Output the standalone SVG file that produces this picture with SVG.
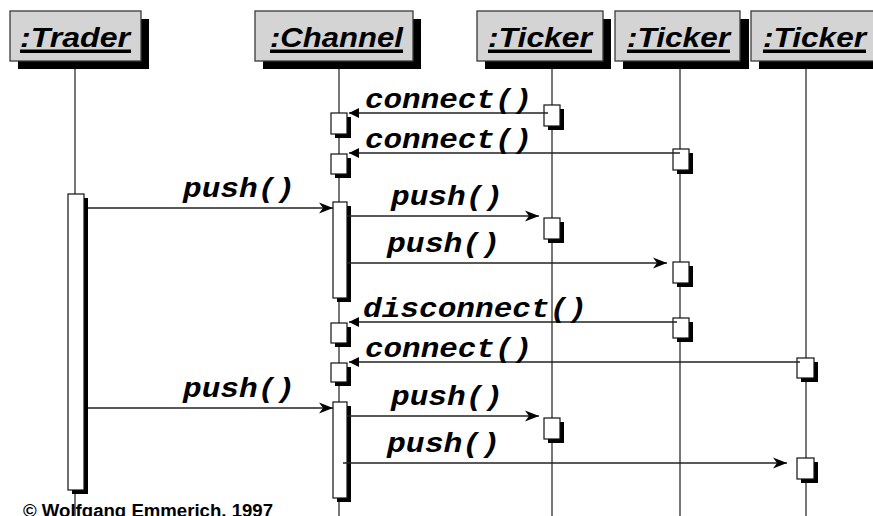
<svg xmlns="http://www.w3.org/2000/svg" width="873" height="516" viewBox="0 0 873 516">
<style>
.hbox{fill:#d4d4d4;stroke:#3a3a3a;stroke-width:1.3}
.shadow{fill:#000}
.htext{font-family:"Liberation Sans",Arial,sans-serif;font-weight:bold;font-style:italic;font-size:27px;fill:#000}
.life{stroke:#555;stroke-width:1.6;fill:none}
.act{fill:#fff;stroke:#111;stroke-width:1.2}
.msg{stroke:#222;stroke-width:1.5;fill:none}
.lbl{font-family:"Liberation Mono","Courier New",monospace;font-weight:bold;font-style:italic;font-size:27px;fill:#000}
.copy{font-family:"Liberation Sans",Arial,sans-serif;font-weight:bold;font-size:18px;fill:#000}
</style>
<defs>
<marker id="tri" markerUnits="userSpaceOnUse" markerWidth="12" markerHeight="12" refX="10" refY="6" orient="auto"><path d="M0,1 L10,6 L0,11 z" fill="#000"/></marker>
<marker id="barb" markerUnits="userSpaceOnUse" markerWidth="16" markerHeight="12" refX="14" refY="6" orient="auto"><path d="M0,0.5 L14,6 L0,11.5 L4,6 z" fill="#000"/></marker>
</defs>
<rect width="873" height="516" fill="#fff"/>

<g id="lifelines">
<line class="life" x1="75" y1="68" x2="75" y2="516"/>
<line class="life" x1="339" y1="68" x2="339" y2="516"/>
<line class="life" x1="552" y1="68" x2="552" y2="516"/>
<line class="life" x1="680" y1="68" x2="680" y2="516"/>
<line class="life" x1="806" y1="68" x2="806" y2="516"/>
</g>

<g id="trader">
<rect class="shadow" x="18" y="19" width="131" height="50"/>
<rect class="hbox" x="10" y="11" width="131" height="50"/>
<text class="htext" x="20" y="47" textLength="110" lengthAdjust="spacingAndGlyphs">:Trader</text>
<rect x="20" y="49.5" width="111" height="3.5" fill="#000"/>
<rect class="shadow" x="72" y="198" width="16" height="296"/>
<rect class="act" x="68" y="194" width="16" height="296"/>
</g>

<g id="channel">
<rect class="shadow" x="263" y="19" width="158" height="50"/>
<rect class="hbox" x="255" y="11" width="158" height="50"/>
<text class="htext" x="270" y="47" textLength="133" lengthAdjust="spacingAndGlyphs">:Channel</text>
<rect x="270" y="49.5" width="133" height="3.5" fill="#000"/>
<rect class="shadow" x="335" y="117" width="16" height="21"/>
<rect class="act" x="331" y="113" width="16" height="21"/>
<rect class="shadow" x="335" y="158" width="16" height="20"/>
<rect class="act" x="331" y="154" width="16" height="20"/>
<rect class="shadow" x="337" y="206" width="14" height="96"/>
<rect class="act" x="333" y="202" width="14" height="96"/>
<rect class="shadow" x="335" y="327" width="16" height="20"/>
<rect class="act" x="331" y="323" width="16" height="20"/>
<rect class="shadow" x="335" y="367" width="16" height="19"/>
<rect class="act" x="331" y="363" width="16" height="19"/>
<rect class="shadow" x="337" y="406" width="14" height="96"/>
<rect class="act" x="333" y="402" width="14" height="96"/>
</g>

<g id="ticker1">
<rect class="shadow" x="485" y="19" width="126" height="50"/>
<rect class="hbox" x="477" y="11" width="126" height="50"/>
<text class="htext" x="488" y="47" textLength="104" lengthAdjust="spacingAndGlyphs">:Ticker</text>
<rect x="488" y="49.5" width="104" height="3.5" fill="#000"/>
<rect class="shadow" x="548" y="109" width="16" height="21"/>
<rect class="act" x="544" y="105" width="16" height="21"/>
<rect class="shadow" x="548" y="222" width="16" height="21"/>
<rect class="act" x="544" y="218" width="16" height="21"/>
<rect class="shadow" x="548" y="422" width="16" height="21"/>
<rect class="act" x="544" y="418" width="16" height="21"/>
</g>

<g id="ticker2">
<rect class="shadow" x="623" y="19" width="126" height="50"/>
<rect class="hbox" x="615" y="11" width="125" height="50"/>
<text class="htext" x="627" y="47" textLength="103" lengthAdjust="spacingAndGlyphs">:Ticker</text>
<rect x="627" y="49.5" width="103" height="3.5" fill="#000"/>
<rect class="shadow" x="677" y="153" width="16" height="21"/>
<rect class="act" x="673" y="149" width="16" height="21"/>
<rect class="shadow" x="677" y="266" width="16" height="21"/>
<rect class="act" x="673" y="262" width="16" height="21"/>
<rect class="shadow" x="677" y="322" width="16" height="20"/>
<rect class="act" x="673" y="318" width="16" height="20"/>
</g>

<g id="ticker3">
<rect class="shadow" x="759" y="19" width="130" height="50"/>
<rect class="hbox" x="751" y="11" width="130" height="50"/>
<text class="htext" x="763" y="47" textLength="103" lengthAdjust="spacingAndGlyphs">:Ticker</text>
<rect x="763" y="49.5" width="103" height="3.5" fill="#000"/>
<rect class="shadow" x="801" y="362" width="17" height="20"/>
<rect class="act" x="797" y="358" width="17" height="20"/>
<rect class="shadow" x="801" y="462" width="17" height="21"/>
<rect class="act" x="797" y="458" width="17" height="21"/>
</g>

<g id="connectors">
<line class="msg" x1="548" y1="113" x2="349" y2="113" marker-end="url(#tri)"/>
<line class="msg" x1="680" y1="153" x2="349" y2="153" marker-end="url(#tri)"/>
<line class="msg" x1="88" y1="208" x2="333" y2="208" marker-end="url(#barb)"/>
<line class="msg" x1="347" y1="216" x2="539" y2="216" marker-end="url(#barb)"/>
<line class="msg" x1="347" y1="263" x2="667" y2="263" marker-end="url(#barb)"/>
<line class="msg" x1="677" y1="322" x2="349" y2="322" marker-end="url(#tri)"/>
<line class="msg" x1="800" y1="362" x2="349" y2="362" marker-end="url(#tri)"/>
<line class="msg" x1="88" y1="408" x2="333" y2="408" marker-end="url(#barb)"/>
<line class="msg" x1="347" y1="416" x2="539" y2="416" marker-end="url(#barb)"/>
<line class="msg" x1="343" y1="463" x2="787" y2="463" marker-end="url(#barb)"/>
<text class="lbl" x="365" y="108" textLength="167" lengthAdjust="spacingAndGlyphs">connect()</text>
<text class="lbl" x="365" y="148" textLength="167" lengthAdjust="spacingAndGlyphs">connect()</text>
<text class="lbl" x="183" y="197" textLength="112" lengthAdjust="spacingAndGlyphs">push()</text>
<text class="lbl" x="391" y="205" textLength="112" lengthAdjust="spacingAndGlyphs">push()</text>
<text class="lbl" x="387" y="252" textLength="113" lengthAdjust="spacingAndGlyphs">push()</text>
<text class="lbl" x="363" y="317" textLength="224" lengthAdjust="spacingAndGlyphs">disconnect()</text>
<text class="lbl" x="365" y="357" textLength="167" lengthAdjust="spacingAndGlyphs">connect()</text>
<text class="lbl" x="183" y="397" textLength="112" lengthAdjust="spacingAndGlyphs">push()</text>
<text class="lbl" x="391" y="405" textLength="112" lengthAdjust="spacingAndGlyphs">push()</text>
<text class="lbl" x="387" y="452" textLength="113" lengthAdjust="spacingAndGlyphs">push()</text>
</g>

<text class="copy" x="23" y="517" textLength="250" lengthAdjust="spacingAndGlyphs">© Wolfgang Emmerich, 1997</text>
</svg>
